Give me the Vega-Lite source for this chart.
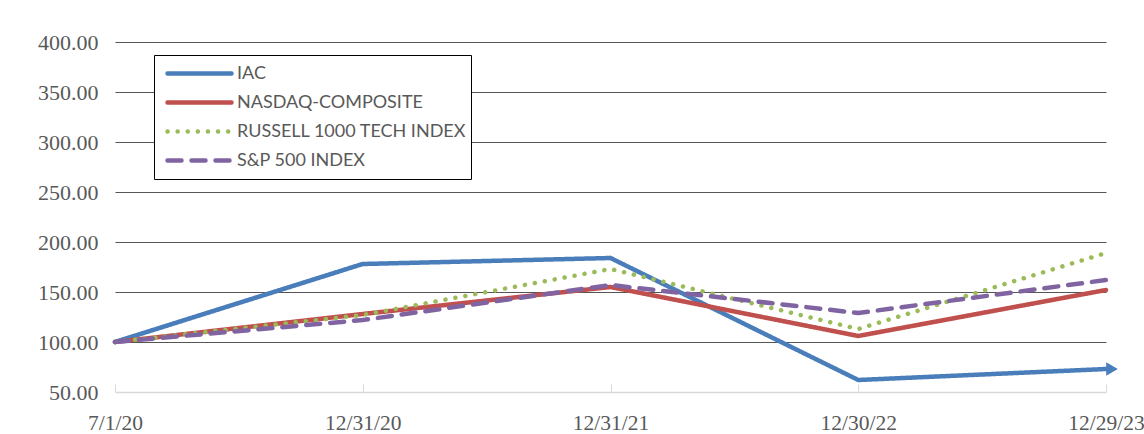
{
  "$schema": "https://vega.github.io/schema/vega-lite/v6.json",
  "width": 991,
  "height": 350,
  "autosize": {"type": "none"},
  "padding": {"left": 115, "top": 42, "right": 38, "bottom": 42},
  "background": "white",
  "config": {"view": {"stroke": null}},
  "data": {"values": [
    {"date": "7/1/20", "series": "IAC", "value": 100},
    {"date": "12/31/20", "series": "IAC", "value": 178},
    {"date": "12/31/21", "series": "IAC", "value": 184},
    {"date": "12/30/22", "series": "IAC", "value": 62},
    {"date": "12/29/23", "series": "IAC", "value": 73},
    {"date": "7/1/20", "series": "NASDAQ-COMPOSITE", "value": 100},
    {"date": "12/31/20", "series": "NASDAQ-COMPOSITE", "value": 128},
    {"date": "12/31/21", "series": "NASDAQ-COMPOSITE", "value": 155},
    {"date": "12/30/22", "series": "NASDAQ-COMPOSITE", "value": 106},
    {"date": "12/29/23", "series": "NASDAQ-COMPOSITE", "value": 152},
    {"date": "7/1/20", "series": "RUSSELL 1000 TECH INDEX", "value": 100},
    {"date": "12/31/20", "series": "RUSSELL 1000 TECH INDEX", "value": 127},
    {"date": "12/31/21", "series": "RUSSELL 1000 TECH INDEX", "value": 173},
    {"date": "12/30/22", "series": "RUSSELL 1000 TECH INDEX", "value": 113},
    {"date": "12/29/23", "series": "RUSSELL 1000 TECH INDEX", "value": 189},
    {"date": "7/1/20", "series": "S&P 500 INDEX", "value": 100},
    {"date": "12/31/20", "series": "S&P 500 INDEX", "value": 122},
    {"date": "12/31/21", "series": "S&P 500 INDEX", "value": 157},
    {"date": "12/30/22", "series": "S&P 500 INDEX", "value": 129},
    {"date": "12/29/23", "series": "S&P 500 INDEX", "value": 162}
  ]},
  "layer": [
    {
      "mark": {"type": "line", "strokeWidth": 4.5, "strokeCap": "round", "strokeJoin": "round"},
      "encoding": {
        "x": {
          "field": "date", "type": "ordinal", "sort": null,
          "scale": {"type": "point", "padding": 0},
          "axis": {
            "title": null, "labelAngle": 0, "labelFont": "Liberation Serif", "labelFontSize": 21.5,
            "labelColor": "#595959", "domainColor": "#d9d9d9", "domainWidth": 1.5,
            "tickColor": "#d9d9d9", "tickSize": -8, "tickWidth": 1, "labelPadding": 28,
            "grid": false
          }
        },
        "y": {
          "field": "value", "type": "quantitative",
          "scale": {"domain": [50, 400], "nice": false, "zero": false},
          "axis": {
            "title": null, "values": [50, 100, 150, 200, 250, 300, 350, 400], "format": ".2f",
            "labelFont": "Liberation Serif", "labelFontSize": 22, "labelColor": "#595959",
            "domain": false, "ticks": false, "labelPadding": 17,
            "grid": true, "gridColor": "#555555", "gridWidth": 1.2,
            "gridOpacity": {"condition": {"test": "datum.value === 50", "value": 0}, "value": 1}
          }
        },
        "color": {
          "field": "series", "type": "nominal",
          "scale": {"domain": ["IAC", "NASDAQ-COMPOSITE", "RUSSELL 1000 TECH INDEX", "S&P 500 INDEX"],
                    "range": ["#4a7ebb", "#c0504d", "#9bbb59", "#8064a2"]},
          "legend": {
            "title": null, "orient": "none", "legendX": 39, "legendY": 13,
            "symbolType": "stroke", "symbolSize": 4096, "symbolStrokeWidth": 4.5, "symbolOffset": 7,
            "labelFont": "Lato", "labelFontSize": 18, "labelColor": "#595959", "labelLimit": 400,
            "labelOffset": 3, "clipHeight": 29, "rowPadding": 0,
            "strokeColor": "#000000", "fillColor": "white", "padding": 4,
            "encode": {"symbols": {"update": {"strokeCap": {"value": "round"}}}}
          }
        },
        "strokeDash": {
          "field": "series", "type": "nominal",
          "scale": {"domain": ["IAC", "NASDAQ-COMPOSITE", "RUSSELL 1000 TECH INDEX", "S&P 500 INDEX"],
                    "range": [[1, 0], [1, 0], [0.1, 10], [14, 10]]},
          "legend": {
            "title": null, "orient": "none", "legendX": 39, "legendY": 13,
            "symbolType": "stroke", "symbolSize": 4096, "symbolStrokeWidth": 4.5, "symbolOffset": 7,
            "labelFont": "Lato", "labelFontSize": 18, "labelColor": "#595959", "labelLimit": 400,
            "labelOffset": 3, "clipHeight": 29, "rowPadding": 0,
            "strokeColor": "#000000", "fillColor": "white", "padding": 4,
            "encode": {"symbols": {"update": {"strokeCap": {"value": "round"}}}}
          }
        }
      }
    },
    {
      "transform": [{"filter": "datum.series === 'IAC' && datum.date === '12/29/23'"}],
      "mark": {"type": "point", "shape": "triangle-right", "filled": true, "size": 180, "opacity": 1, "xOffset": 6, "color": "#4a7ebb"},
      "encoding": {
        "x": {"field": "date", "type": "ordinal", "sort": null},
        "y": {"field": "value", "type": "quantitative"}
      }
    }
  ]
}
